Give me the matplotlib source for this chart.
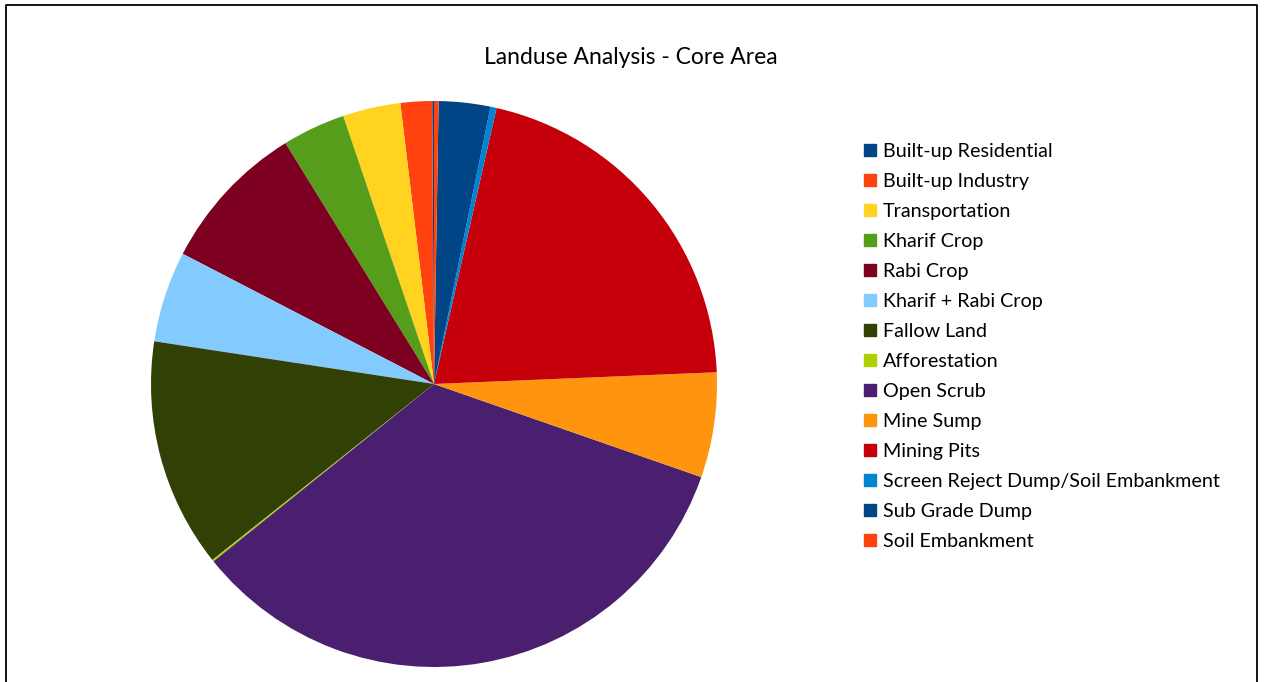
import matplotlib
matplotlib.use("Agg")
import matplotlib.pyplot as plt
from matplotlib.patches import Rectangle
from matplotlib.lines import Line2D

plt.rcParams['font.family'] = ['Lato', 'DejaVu Sans']

# land use categories (legend order), shares in percent
categories = [
    "Built-up Residential", "Built-up Industry", "Transportation",
    "Kharif Crop", "Rabi Crop", "Kharif + Rabi Crop", "Fallow Land",
    "Afforestation", "Open Scrub", "Mine Sump", "Mining Pits",
    "Screen Reject Dump/Soil Embankment", "Sub Grade Dump", "Soil Embankment",
]
shares = [0.10, 1.80, 3.30, 3.60, 8.60, 5.20, 13.10,
          0.10, 33.90, 6.00, 20.80, 0.35, 2.94, 0.26]
colors = ["#004586", "#ff420e", "#ffd320", "#579d1c", "#7e0021", "#83caff",
          "#314004", "#aecf00", "#4b1f6f", "#ff950e", "#c5000b", "#0084d1",
          "#004586", "#ff420e"]

W, H = 1266, 682
fig = plt.figure(figsize=(W / 100, H / 100), dpi=100)

# chart frame (left, top, right edges)
frame = Line2D([6 / W, 6 / W, 1257 / W, 1257 / W], [0, 1 - 5 / H, 1 - 5 / H, 0],
               transform=fig.transFigure, color="black", lw=1.3)
fig.add_artist(frame)

cx, cy, r = 434, 384, 283
ax = fig.add_axes([(cx - r) / W, (H - cy - r) / H, 2 * r / W, 2 * r / H])
ax.pie(shares, colors=colors, startangle=90, counterclock=True, radius=1,
       wedgeprops=dict(linewidth=0))
ax.set_xlim(-1, 1)
ax.set_ylim(-1, 1)
ax.set_aspect("equal")
ax.axis("off")

fig.text(631 / W, 1 - 57 / H, "Landuse Analysis - Core Area",
         ha="center", va="center", fontsize=16.5)

# legend drawn by hand to match row spacing
for i, (lab, col) in enumerate(zip(categories, colors)):
    y = 150 + 30 * i
    fig.add_artist(Rectangle((864 / W, 1 - (y + 6) / H), 12 / W, 12 / H,
                             transform=fig.transFigure, color=col))
    fig.text(883 / W, 1 - (y + 1.5) / H, lab, ha="left", va="center",
             fontsize=14.2)

fig.savefig("out.png", dpi=100)
